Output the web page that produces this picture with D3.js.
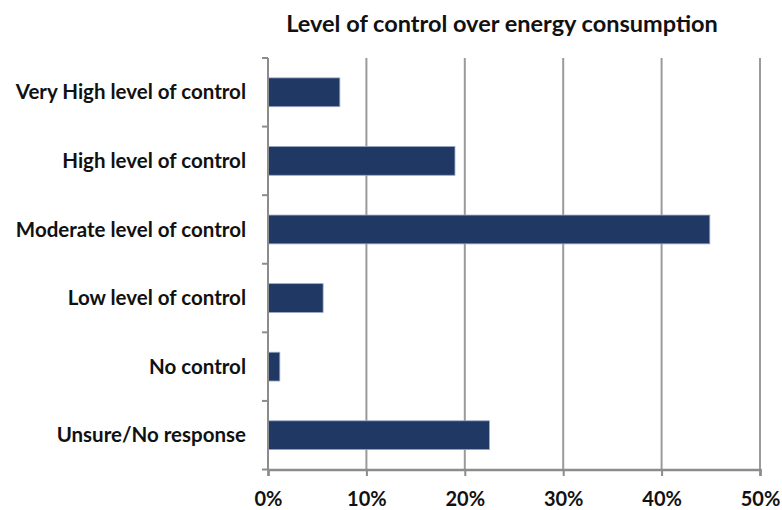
<!DOCTYPE html>
<html>
<head>
<meta charset="utf-8">
<script src="https://cdn.jsdelivr.net/npm/d3@7"></script>
<style>
  body { margin: 0; background: #fff; }
  svg { display: block; font-family: Lato, "Open Sans", sans-serif; }
</style>
</head>
<body>
<svg id="chart" width="782" height="510"></svg>
<script>
// Share of respondents by self-reported level of control
const categories = [
  "Very High level of control",
  "High level of control",
  "Moderate level of control",
  "Low level of control",
  "No control",
  "Unsure/No response"
];
const values = [7.3, 19.0, 44.9, 5.6, 1.2, 22.5];
const tickValues = [0, 10, 20, 30, 40, 50];
const titleText = "Level of control over energy consumption";

const svg = d3.select("#chart");
const margin = { top: 58, right: 22, bottom: 40.5, left: 268 };
const width = 782, height = 510;

const x = d3.scaleLinear().domain([0, 50]).range([margin.left, width - margin.right]);
const y = d3.scaleBand().domain(categories)
  .range([margin.top, height - margin.bottom])
  .paddingInner(0.58).paddingOuter(0.29);

// Title
svg.append("text")
  .attr("x", 502).attr("y", 32)
  .attr("text-anchor", "middle")
  .attr("font-size", 23.5).attr("font-weight", 700)
  .attr("fill", "#111")
  .text(titleText);

// Vertical gridlines
svg.append("g")
  .selectAll("line")
  .data(tickValues.slice(1))
  .join("line")
  .attr("x1", d => x(d)).attr("x2", d => x(d))
  .attr("y1", margin.top).attr("y2", height - margin.bottom)
  .attr("stroke", "#9a9a9a").attr("stroke-width", 2);

// Bars
svg.append("g")
  .selectAll("rect")
  .data(categories.map((c, i) => ({ c, v: values[i] })))
  .join("rect")
  .attr("x", x(0))
  .attr("y", d => y(d.c))
  .attr("width", d => x(d.v) - x(0))
  .attr("height", y.bandwidth())
  .attr("fill", "#203864")
  .attr("stroke", "#9aa8c4").attr("stroke-width", 0.8);

// X axis
const xAxis = svg.append("g")
  .attr("transform", `translate(0,${height - margin.bottom})`)
  .call(d3.axisBottom(x).tickValues(tickValues).tickFormat(d => d + "%").tickSize(6.5).tickPadding(16));
xAxis.select(".domain").attr("stroke", "#8c8c8c").attr("stroke-width", 2.5);
xAxis.selectAll(".tick line").attr("stroke", "#8c8c8c").attr("stroke-width", 2);
xAxis.selectAll(".tick text")
  .attr("font-size", 20).attr("font-weight", 700).attr("fill", "#111")
  .attr("font-family", "Lato, sans-serif");

// Y axis: ticks at band boundaries
const yAxis = svg.append("g");
yAxis.append("line")
  .attr("x1", margin.left).attr("x2", margin.left)
  .attr("y1", margin.top).attr("y2", height - margin.bottom)
  .attr("stroke", "#8c8c8c").attr("stroke-width", 2);
const bounds = d3.range(categories.length + 1).map(i => margin.top + i * (height - margin.top - margin.bottom) / categories.length);
yAxis.selectAll("line.tick")
  .data(bounds)
  .join("line").attr("class", "tick")
  .attr("x1", margin.left - 6).attr("x2", margin.left)
  .attr("y1", d => d).attr("y2", d => d)
  .attr("stroke", "#8c8c8c").attr("stroke-width", 2);

yAxis.selectAll("text")
  .data(categories)
  .join("text")
  .attr("x", 246)
  .attr("y", d => y(d) + y.bandwidth() / 2)
  .attr("dy", "0.35em")
  .attr("text-anchor", "end")
  .attr("font-size", 20.5).attr("font-weight", 700).attr("fill", "#111")
  .text(d => d);
</script>
</body>
</html>
